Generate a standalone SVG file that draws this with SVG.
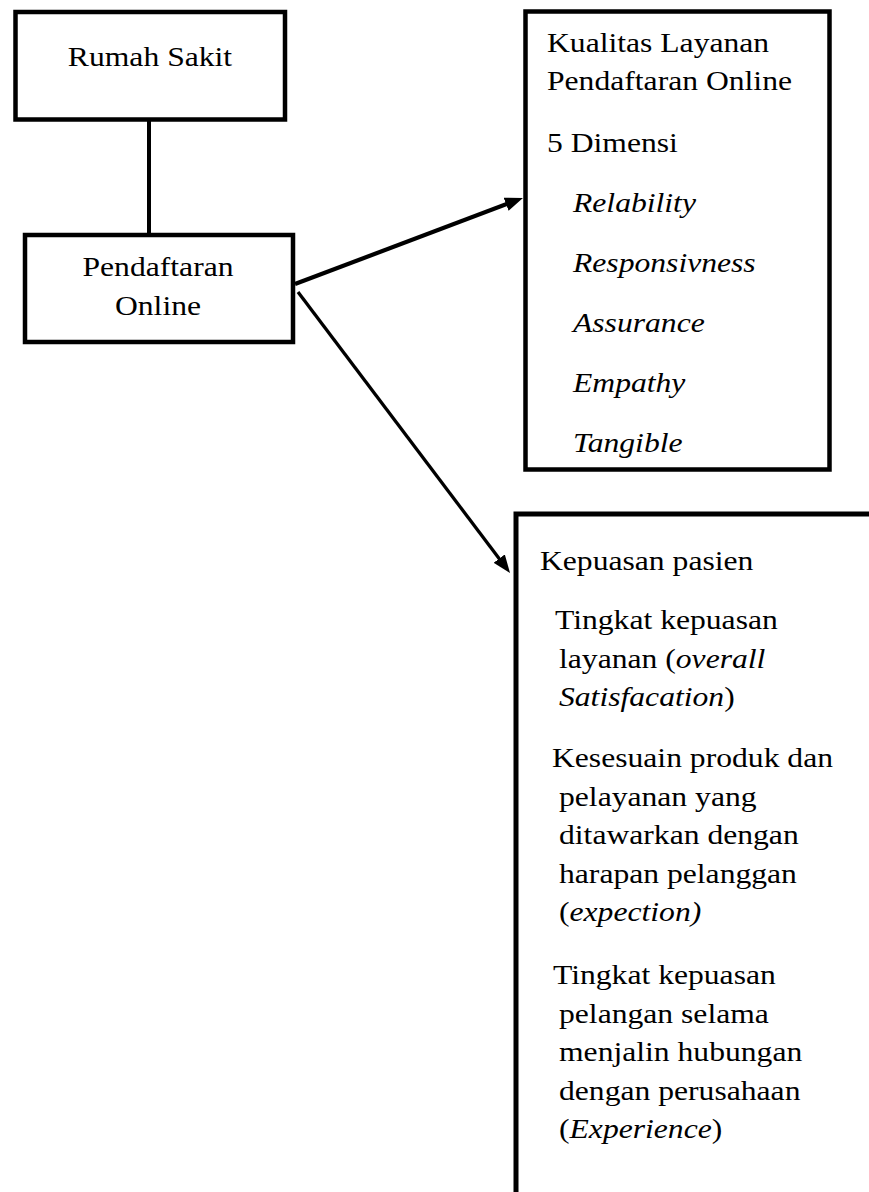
<svg xmlns="http://www.w3.org/2000/svg" width="869" height="1192" viewBox="0 0 869 1192">
<defs>
<style>
.box{fill:#fff;stroke:#000;stroke-width:4.5;stroke-linejoin:miter}
.c{text-anchor:middle}
.i{font-style:italic}
.ln{stroke:#000;fill:none}
</style>
<marker id="ah" markerUnits="userSpaceOnUse" markerWidth="18" markerHeight="14" viewBox="0 0 18 14" refX="8" refY="7" orient="auto">
<path d="M0,0 L18,7 L0,14 z" fill="#000"/>
</marker>
</defs>
<rect width="869" height="1192" fill="#fff"/>
<g id="connectors">
<line class="ln" x1="149" y1="121" x2="149" y2="234" stroke-width="4"/>
<line class="ln" x1="295" y1="284" x2="513.6" y2="201.5" stroke-width="4.2" marker-end="url(#ah)"/>
<line class="ln" x1="298" y1="292" x2="504" y2="565" stroke-width="3.3" marker-end="url(#ah)"/>
</g>
<g font-family="Liberation Serif, Times New Roman, serif" font-size="28" fill="#000">
<g id="rumah-sakit">
<rect class="box" x="15.5" y="12" width="269.5" height="107.5"/>
<text class="c" transform="translate(150,66) scale(1.13,1)">Rumah Sakit</text>
</g>
<g id="pendaftaran-online">
<rect class="box" x="25" y="235" width="268" height="107"/>
<text class="c" transform="translate(158,276) scale(1.13,1)">Pendaftaran</text>
<text class="c" transform="translate(158,315) scale(1.13,1)">Online</text>
</g>
<g id="kualitas-layanan">
<rect class="box" x="525.5" y="11.5" width="304" height="458"/>
<text transform="translate(547,52) scale(1.13,1)">Kualitas Layanan</text>
<text transform="translate(547,90) scale(1.13,1)">Pendaftaran Online</text>
<text transform="translate(547,152) scale(1.13,1)">5 Dimensi</text>
<text class="i" transform="translate(573,212) scale(1.13,1)">Relability</text>
<text class="i" transform="translate(573,272) scale(1.13,1)">Responsivness</text>
<text class="i" transform="translate(573,332) scale(1.13,1)">Assurance</text>
<text class="i" transform="translate(573,392) scale(1.13,1)">Empathy</text>
<text class="i" transform="translate(573,452) scale(1.13,1)">Tangible</text>
</g>
<g id="kepuasan-pasien">
<rect class="box" x="516" y="514" width="420" height="760" style="stroke-width:5"/>
<text transform="translate(540,570) scale(1.13,1)">Kepuasan pasien</text>
<text transform="translate(555,629) scale(1.13,1)">Tingkat kepuasan</text>
<text transform="translate(559,667.5) scale(1.13,1)">layanan (<tspan class="i">overall</tspan></text>
<text transform="translate(559,706) scale(1.13,1)"><tspan class="i">Satisfacation</tspan>)</text>
<text transform="translate(552,767) scale(1.13,1)">Kesesuain produk dan</text>
<text transform="translate(559,805.5) scale(1.13,1)">pelayanan yang</text>
<text transform="translate(559,844) scale(1.13,1)">ditawarkan dengan</text>
<text transform="translate(559,882.5) scale(1.13,1)">harapan pelanggan</text>
<text transform="translate(559,921) scale(1.13,1)">(<tspan class="i">expection)</tspan></text>
<text transform="translate(553,984) scale(1.13,1)">Tingkat kepuasan</text>
<text transform="translate(559,1022.5) scale(1.13,1)">pelangan selama</text>
<text transform="translate(559,1061) scale(1.13,1)">menjalin hubungan</text>
<text transform="translate(559,1099.5) scale(1.13,1)">dengan perusahaan</text>
<text transform="translate(559,1138) scale(1.13,1)">(<tspan class="i">Experience</tspan>)</text>
</g>
</g>
</svg>
